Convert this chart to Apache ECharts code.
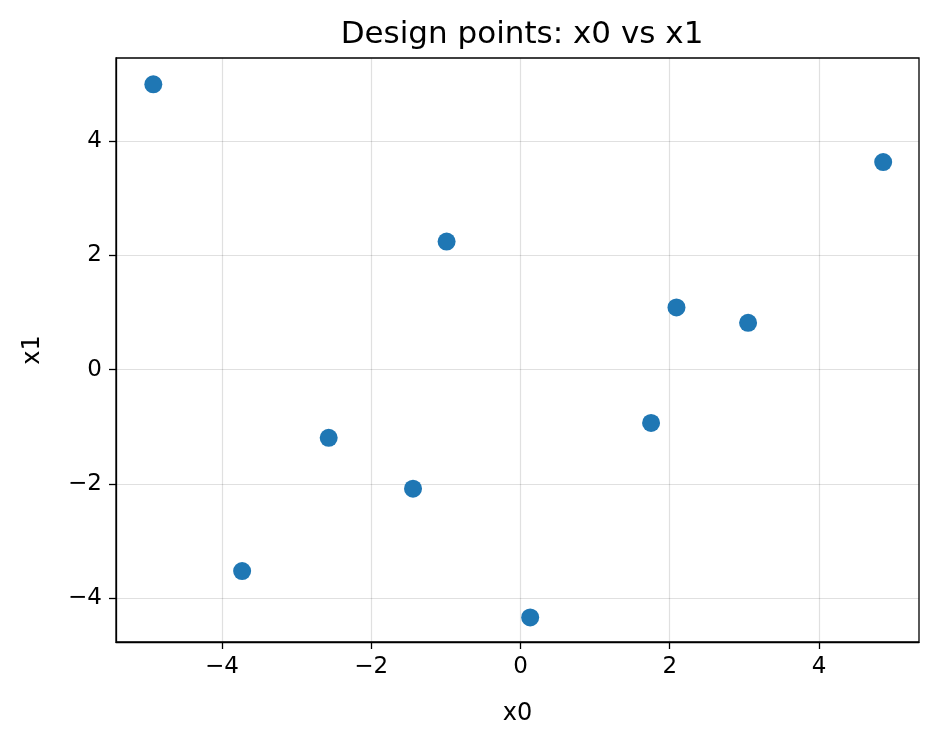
<!DOCTYPE html>
<html>
<head>
<meta charset="utf-8">
<script src="https://cdn.jsdelivr.net/npm/echarts@6/dist/echarts.min.js"></script>
<style>
html,body{margin:0;padding:0;background:#fff;}
#chart{width:938px;height:746px;}
</style>
</head>
<body>
<div id="chart"></div>
<script>
const titleText = "Design points: x0 vs x1";
const xName = "x0";
const yName = "x1";
const x0 = [-4.92, 4.86, -0.99, 2.09, 3.05, 1.75, -2.57, -1.44, -3.73, 0.13];
const x1 = [4.99, 3.63, 2.24, 1.09, 0.82, -0.93, -1.19, -2.08, -3.52, -4.33];
const xTicks = [-4, -2, 0, 2, 4];
const yTicks = [-4, -2, 0, 2, 4];
const xLim = [-5.42, 5.34];
const yLim = [-4.76, 5.45];

const points = x0.map((v, i) => [v, x1[i]]);
const fmt = v => String(v).replace('-', '\u2212');
const font = "DejaVu Sans";

const chart = echarts.init(document.getElementById('chart'), null, {renderer: 'canvas'});
function axis(lim, ticks, name, gap, rot, margin) {
  return {
    type: 'value', min: lim[0], max: lim[1],
    name: name, nameLocation: 'middle', nameGap: gap, nameRotate: rot,
    nameTextStyle: {fontFamily: font, fontSize: 24, color: '#000'},
    axisLine: {show: true, onZero: false, lineStyle: {color: '#000', width: 1.3}},
    axisTick: {show: true, customValues: ticks, length: 7, lineStyle: {color: '#000', width: 1.3}},
    axisLabel: {customValues: ticks, formatter: fmt, fontFamily: font, fontSize: 23, color: '#000', margin: margin},
    splitLine: {show: true, lineStyle: {color: 'rgba(0,0,0,0.12)', width: 1.2}}
  };
}
chart.setOption({
  animation: false,
  backgroundColor: '#fff',
  title: {
    text: titleText, left: 517, top: 14, textAlign: 'center',
    textStyle: {fontFamily: font, fontSize: 31, fontWeight: 'normal', color: '#000'}
  },
  grid: {left: 116, right: 19, top: 58, bottom: 104, show: true, borderColor: '#000', borderWidth: 1.3, containLabel: false},
  xAxis: axis(xLim, xTicks, xName, 60, 0, 14),
  yAxis: axis(yLim, yTicks, yName, 71, 90, 14),
  series: [{
    type: 'scatter',
    data: points,
    symbolSize: 18,
    itemStyle: {color: '#1f77b4', opacity: 1}
  }]
});
</script>
</body>
</html>
